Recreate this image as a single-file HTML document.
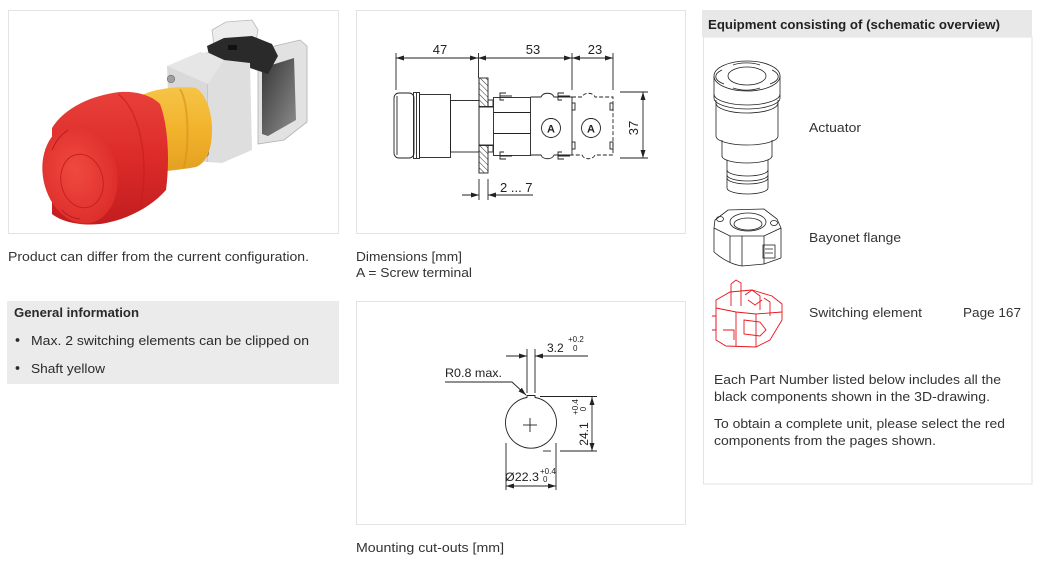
<!DOCTYPE html>
<html>
<head>
<meta charset="utf-8">
<style>
html,body{margin:0;padding:0;background:#fff;}
body{width:1043px;height:564px;overflow:hidden;position:relative;}
svg{position:absolute;left:0;top:0;}
text{font-family:"Liberation Sans",Arial,sans-serif;}
</style>
</head>
<body>
<svg width="1043" height="564" viewBox="0 0 1043 564" xmlns="http://www.w3.org/2000/svg">
<defs>
  <marker id="ar" markerUnits="userSpaceOnUse" markerWidth="8" markerHeight="5" refX="8" refY="2.5" orient="auto-start-reverse">
    <path d="M0,0 L8,2.5 L0,5 Z" fill="#222"/>
  </marker>
  <pattern id="hatch" patternUnits="userSpaceOnUse" width="4" height="4" patternTransform="rotate(-45)">
    <rect width="4" height="4" fill="#fff"/>
    <line x1="0" y1="0" x2="0" y2="4" stroke="#333" stroke-width="1"/>
  </pattern>
  <linearGradient id="redSide" x1="0" y1="0" x2="0" y2="1">
    <stop offset="0" stop-color="#e8403a"/>
    <stop offset="0.5" stop-color="#dc2b29"/>
    <stop offset="1" stop-color="#c21d20"/>
  </linearGradient>
  <radialGradient id="redFace" cx="0.45" cy="0.45" r="0.6">
    <stop offset="0" stop-color="#ef4a3f"/>
    <stop offset="1" stop-color="#dd2c2a"/>
  </radialGradient>
  <linearGradient id="yel" x1="0" y1="0" x2="0" y2="1">
    <stop offset="0" stop-color="#f6c447"/>
    <stop offset="0.5" stop-color="#f2b32c"/>
    <stop offset="1" stop-color="#e3a021"/>
  </linearGradient>
  <linearGradient id="glass" x1="0" y1="0" x2="1" y2="1">
    <stop offset="0" stop-color="#353535"/>
    <stop offset="1" stop-color="#8f8f8f"/>
  </linearGradient>
</defs>

<!-- ================= PRODUCT IMAGE BOX ================= -->
<rect x="8.5" y="10.5" width="330" height="223" fill="#fff" stroke="#e3e3e3"/>
<g>
  <!-- transparent contact block -->
  <polygon points="258,50 300,40 307,46 307,122 284,140 258,144" fill="#e2e2e2" stroke="#b0b0b0" stroke-width="0.8"/>
  <polygon points="262,68 294,58 296,120 268,136 262,134" fill="url(#glass)"/>
  <!-- clear top plate -->
  <polygon points="212,30 226,22 252,20 258,30 256,42 214,46" fill="#ececec" stroke="#b8b8b8" stroke-width="0.8"/>
  <!-- black part -->
  <polygon points="207,46 224,38 252,36 272,44 278,56 268,74 250,68 228,62 210,60" fill="#2a2a2a"/>
  <rect x="228" y="45" width="9" height="5" fill="#111"/>
  <!-- grey body -->
  <polygon points="167,66 207,52 224,60 208,84 207,162 190,160 170,152" fill="#d9d9d9"/>
  <polygon points="207,84 224,60 250,63 252,150 222,163 207,162" fill="#dedede"/>
  <polygon points="167,66 200,52 210,54 224,60 208,84" fill="#e6e6e6"/>
  <line x1="207.5" y1="84" x2="207.5" y2="162" stroke="#c8c8c8" stroke-width="1"/>
  <!-- screws -->
  <circle cx="171" cy="79" r="3.8" fill="#a0a0a0" stroke="#6f6f6f" stroke-width="0.6"/>
  <circle cx="205" cy="153" r="3.8" fill="#a0a0a0" stroke="#6f6f6f" stroke-width="0.6"/>
  <!-- yellow collar -->
  <path d="M140,96 C155,88 180,86 196,88 C206,94 212,112 212,130 C212,150 206,163 196,167 C180,170 160,172 146,172 Z" fill="url(#yel)"/>
  <path d="M180,89 C188,102 190,140 184,168" stroke="#d9951c" stroke-width="2" fill="none" opacity="0.7"/>
  <!-- red mushroom side -->
  <path d="M52,128 C64,108 92,95 120,92 C138,91 152,96 160,104 C168,125 170,160 166,190 C152,206 128,220 100,224 C80,226 62,222 52,214 Z" fill="url(#redSide)"/>
  <path d="M118,94 C140,110 150,160 140,210" stroke="#c41d20" stroke-width="1.5" fill="none" opacity="0.6"/>
  <!-- red face -->
  <ellipse cx="80" cy="174" rx="37" ry="50" transform="rotate(-12 80 174)" fill="url(#redFace)"/>
  <ellipse cx="82" cy="181" rx="21" ry="27" transform="rotate(-12 82 181)" fill="none" stroke="#c81f22" stroke-width="1"/>
  <path d="M52,150 C56,140 62,134 68,130" stroke="#b81a1e" stroke-width="1" fill="none"/>
  <path d="M62,210 C66,215 72,218 80,219" stroke="#b81a1e" stroke-width="1" fill="none"/>
</g>

<!-- ================= DIMENSIONS BOX ================= -->
<rect x="356.5" y="10.5" width="329" height="223" fill="#fff" stroke="#e3e3e3"/>
<g stroke="#222" stroke-width="0.9" fill="none">
  <line x1="396" y1="58" x2="478" y2="58" marker-start="url(#ar)" marker-end="url(#ar)"/>
  <line x1="478" y1="58" x2="572" y2="58" marker-start="url(#ar)" marker-end="url(#ar)"/>
  <line x1="572" y1="58" x2="613" y2="58" marker-start="url(#ar)" marker-end="url(#ar)"/>
  <line x1="396" y1="53" x2="396" y2="90"/>
  <line x1="478.5" y1="53" x2="478.5" y2="78"/>
  <line x1="572" y1="53" x2="572" y2="90"/>
  <line x1="613" y1="53" x2="613" y2="90"/>
  <rect x="394" y="93" width="20" height="65" rx="5"/>
  <line x1="397" y1="96" x2="397" y2="155"/>
  <rect x="413.5" y="92.5" width="6" height="66"/>
  <line x1="416.5" y1="93" x2="416.5" y2="158"/>
  <rect x="419.5" y="94.5" width="31" height="63"/>
  <rect x="450.5" y="100.5" width="28.5" height="51.5"/>
  <rect x="479" y="78" width="9" height="29" fill="url(#hatch)"/>
  <rect x="479" y="145" width="9" height="28" fill="url(#hatch)"/>
  <line x1="479" y1="78" x2="479" y2="173"/>
  <line x1="479" y1="106.5" x2="493" y2="106.5"/>
  <line x1="479" y1="145.5" x2="493" y2="145.5"/>
  <rect x="488" y="100" width="5" height="7"/>
  <rect x="488" y="145" width="5" height="7"/>
  <rect x="493.5" y="97.5" width="37" height="58"/>
  <line x1="493.5" y1="112.5" x2="530.5" y2="112.5"/>
  <line x1="493.5" y1="133.5" x2="530.5" y2="133.5"/>
  <path d="M504,100 L500,100 L500,93 L506,93 M500,96 L512,96"/>
  <path d="M504,152 L500,152 L500,159 L506,159 M500,156 L512,156"/>
  <path d="M562,100 L558,100 L558,93 L564,93 M558,96 L570,96"/>
  <path d="M562,152 L558,152 L558,159 L564,159 M558,156 L570,156"/>
  <path d="M530.5,97 L541,97 C543,92 552,92 554,97 L572,97 L572,155 L554,155 C552,160 543,160 541,155 L530.5,155"/>
  <circle cx="551" cy="128" r="9.5"/>
  <rect x="572" y="103" width="3" height="7"/>
  <rect x="572" y="142" width="3" height="7"/>
  <path d="M572,97 L582,97 C584,92 593,92 595,97 L613,97 L613,155 L595,155 C593,160 584,160 582,155 L572,155" stroke-dasharray="4,2"/>
  <circle cx="591" cy="128" r="9.5"/>
  <rect x="610" y="103" width="3" height="7"/>
  <rect x="610" y="142" width="3" height="7"/>
  <line x1="620" y1="92" x2="648" y2="92"/>
  <line x1="620" y1="158" x2="648" y2="158"/>
  <line x1="643" y1="92" x2="643" y2="158" marker-start="url(#ar)" marker-end="url(#ar)"/>
  <line x1="479" y1="179" x2="479" y2="200"/>
  <line x1="488" y1="179" x2="488" y2="200"/>
  <line x1="462" y1="195" x2="479" y2="195" marker-end="url(#ar)"/>
  <line x1="533" y1="195" x2="488" y2="195" marker-end="url(#ar)"/>
</g>
<g fill="#222" font-size="13">
  <text x="440" y="54" text-anchor="middle">47</text>
  <text x="533" y="54" text-anchor="middle">53</text>
  <text x="595" y="54" text-anchor="middle">23</text>
  <text x="638" y="128" text-anchor="middle" transform="rotate(-90 638 128)">37</text>
  <text x="500" y="192">2 ... 7</text>
  <text x="551" y="132.5" text-anchor="middle" font-size="11" font-weight="bold">A</text>
  <text x="591" y="132.5" text-anchor="middle" font-size="11" font-weight="bold">A</text>
</g>

<!-- ================= MOUNTING BOX ================= -->
<rect x="356.5" y="301.5" width="329" height="223" fill="#fff" stroke="#e3e3e3"/>
<g stroke="#222" stroke-width="0.9" fill="none">
  <path d="M527,397.5 A25.5,25.5 0 1 0 535,397.5 L535,395.5 L527,395.5 Z"/>
  <line x1="523" y1="425" x2="537" y2="425"/>
  <line x1="530" y1="418" x2="530" y2="432"/>
  <line x1="527" y1="349" x2="527" y2="393"/>
  <line x1="535" y1="349" x2="535" y2="393"/>
  <line x1="506" y1="356" x2="527" y2="356" marker-end="url(#ar)"/>
  <line x1="588" y1="356" x2="535" y2="356" marker-end="url(#ar)"/>
  <polyline points="445,382 512,382 526,395" marker-end="url(#ar)"/>
  <line x1="540" y1="396.5" x2="597" y2="396.5"/>
  <line x1="543" y1="451" x2="551" y2="451"/>
  <line x1="560" y1="451" x2="597" y2="451"/>
  <line x1="592" y1="397" x2="592" y2="451" marker-start="url(#ar)" marker-end="url(#ar)"/>
  <line x1="506" y1="443" x2="506" y2="490"/>
  <line x1="556" y1="443" x2="556" y2="490"/>
  <line x1="506" y1="486" x2="556" y2="486" marker-start="url(#ar)" marker-end="url(#ar)"/>
</g>
<g fill="#222">
  <text x="547" y="352" font-size="12">3.2</text>
  <text x="568" y="342" font-size="8">+0.2</text>
  <text x="573" y="351" font-size="8">0</text>
  <text x="445" y="377" font-size="12" textLength="57" lengthAdjust="spacingAndGlyphs">R0.8 max.</text>
  <text x="588" y="434" font-size="12" text-anchor="middle" transform="rotate(-90 588 434)">24.1</text>
  <text x="578" y="407" font-size="8" text-anchor="middle" transform="rotate(-90 578 407)">+0.4</text>
  <text x="586" y="409" font-size="8" text-anchor="middle" transform="rotate(-90 586 409)">0</text>
  <text x="505" y="481" font-size="12" textLength="34" lengthAdjust="spacingAndGlyphs">Ø22.3</text>
  <text x="540" y="474" font-size="8">+0.4</text>
  <text x="543" y="482" font-size="8">0</text>
</g>

<!-- ================= LEFT TEXT ================= -->
<g fill="#333" font-size="13">
  <text x="8" y="261" textLength="301" lengthAdjust="spacingAndGlyphs">Product can differ from the current configuration.</text>
</g>
<rect x="7" y="301" width="332" height="83" fill="#ebebeb"/>
<g fill="#2a2a2a" font-size="13">
  <text x="14" y="317" font-weight="bold" textLength="125" lengthAdjust="spacingAndGlyphs">General information</text>
  <circle cx="17.5" cy="340" r="1.9"/>
  <circle cx="17.5" cy="368" r="1.9"/>
  <text x="31" y="345" textLength="278" lengthAdjust="spacingAndGlyphs">Max. 2 switching elements can be clipped on</text>
  <text x="31" y="373" textLength="74" lengthAdjust="spacingAndGlyphs">Shaft yellow</text>
</g>

<!-- ================= MIDDLE CAPTIONS ================= -->
<g fill="#333" font-size="13">
  <text x="356" y="261" textLength="106" lengthAdjust="spacingAndGlyphs">Dimensions [mm]</text>
  <text x="356" y="277" textLength="116" lengthAdjust="spacingAndGlyphs">A = Screw terminal</text>
  <text x="356" y="552" textLength="148" lengthAdjust="spacingAndGlyphs">Mounting cut-outs [mm]</text>
</g>

<!-- ================= RIGHT PANEL ================= -->
<rect x="703.5" y="37" width="328.5" height="447" fill="#fff" stroke="#e3e3e3"/>
<rect x="702" y="10" width="330" height="27" fill="#e8e8e8"/>
<text x="708" y="29" font-size="13" font-weight="bold" fill="#222" textLength="292" lengthAdjust="spacingAndGlyphs">Equipment consisting of (schematic overview)</text>

<g stroke="#222" stroke-width="0.8" fill="none">
  <ellipse cx="747" cy="76" rx="33" ry="15"/>
  <ellipse cx="747" cy="76" rx="19" ry="9"/>
  <path d="M733,65 A22,10 0 0 1 760,65"/>
  <path d="M733,88 A22,10 0 0 0 760,88"/>
  <path d="M722,70 A25,10 0 0 0 724,84"/>
  <path d="M772,70 A25,10 0 0 1 770,84"/>
  <line x1="714" y1="76" x2="714" y2="98"/>
  <line x1="780" y1="76" x2="780" y2="98"/>
  <path d="M714,94 A33,11 0 0 0 780,94"/>
  <path d="M714,98 A33,11 0 0 0 780,98"/>
  <path d="M716,103 A31,10 0 0 0 778,103"/>
  <line x1="716" y1="100" x2="716" y2="136"/>
  <line x1="778" y1="100" x2="778" y2="136"/>
  <path d="M716,136 A31,9 0 0 0 778,136"/>
  <line x1="722" y1="140" x2="722" y2="157"/>
  <line x1="772" y1="140" x2="772" y2="157"/>
  <path d="M722,156 A25,7 0 0 0 772,156"/>
  <line x1="727" y1="160" x2="727" y2="188"/>
  <line x1="768" y1="160" x2="768" y2="188"/>
  <path d="M727,170 A20.5,6 0 0 0 768,170"/>
  <path d="M727,175 A20.5,6 0 0 0 768,175"/>
  <path d="M727,178 A20.5,6 0 0 0 768,178"/>
  <path d="M727,188 A20.5,6 0 0 0 768,188"/>
</g>

<g stroke="#222" stroke-width="0.8" fill="none">
  <path d="M715,220 L728,210 L764,209 L777,219 L781,228 L764,236 L730,236 L714,228 Z"/>
  <ellipse cx="748" cy="222" rx="18" ry="9"/>
  <ellipse cx="748" cy="224" rx="14" ry="6"/>
  <ellipse cx="720" cy="219" rx="3.5" ry="2.5"/>
  <ellipse cx="774" cy="223" rx="3.5" ry="2.5"/>
  <line x1="714" y1="228" x2="714" y2="252"/>
  <line x1="730" y1="236" x2="730" y2="262"/>
  <line x1="742" y1="236" x2="742" y2="266"/>
  <line x1="764" y1="236" x2="764" y2="264"/>
  <line x1="781" y1="228" x2="781" y2="258"/>
  <path d="M714,252 Q728,264 742,266 L764,264 L781,258"/>
  <rect x="763" y="245" width="12" height="13"/>
  <path d="M765,249 L773,249 M765,253 L773,253"/>
</g>

<g stroke="#e8141c" stroke-width="0.9" fill="none">
  <path d="M716,300 L730,292 L752,290 L772,296 L782,304 L782,320 L776,330 L770,340 L756,347 L726,346 L716,340 Z"/>
  <path d="M716,308 L736,312 L756,314 L782,312"/>
  <path d="M736,312 L736,346"/>
  <path d="M756,314 L756,347"/>
  <path d="M731,284 L736,280 L741,283 L741,306"/>
  <path d="M731,284 L731,306"/>
  <path d="M745,295 L752,290 L760,296 L760,310"/>
  <path d="M748,300 L755,305 L762,300"/>
  <path d="M764,298 L770,302 L770,316"/>
  <path d="M744,320 L760,322 L766,330 L760,336 L744,334 Z"/>
  <path d="M723,330 L734,330 L734,340"/>
  <path d="M712,316 L716,316 L716,330 L712,330"/>
</g>

<g fill="#333" font-size="13">
  <text x="809" y="132" textLength="52" lengthAdjust="spacingAndGlyphs">Actuator</text>
  <text x="809" y="242" textLength="92" lengthAdjust="spacingAndGlyphs">Bayonet flange</text>
  <text x="809" y="317" textLength="113" lengthAdjust="spacingAndGlyphs">Switching element</text>
  <text x="963" y="317" textLength="58" lengthAdjust="spacingAndGlyphs">Page 167</text>
  <text x="714" y="384" textLength="287" lengthAdjust="spacingAndGlyphs">Each Part Number listed below includes all the</text>
  <text x="714" y="401" textLength="276" lengthAdjust="spacingAndGlyphs">black components shown in the 3D-drawing.</text>
  <text x="714" y="428" textLength="291" lengthAdjust="spacingAndGlyphs">To obtain a complete unit, please select the red</text>
  <text x="714" y="445" textLength="222" lengthAdjust="spacingAndGlyphs">components from the pages shown.</text>
</g>
</svg>
</body>
</html>
